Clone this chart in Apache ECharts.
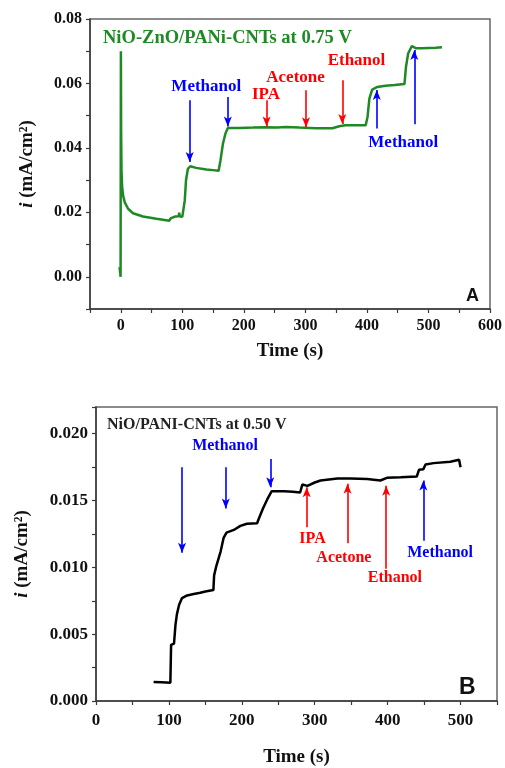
<!DOCTYPE html>
<html>
<head>
<meta charset="utf-8">
<script src="https://cdn.jsdelivr.net/npm/echarts@6/dist/echarts.min.js"></script>
<style>
html,body{margin:0;padding:0;background:#fff;}
#c{width:505px;height:768px;}
</style>
</head>
<body>
<div id="c"></div>
<script>
// ---------- Panel A data (NiO-ZnO/PANi-CNTs at 0.75 V) ----------
const timeA = [-2, -1.5, -0.8, -0.3, 0, 0.2, 0.6, 1.2, 2.2, 3.8, 6.5, 11.9, 20, 36, 58, 79, 81, 82, 88, 94, 95, 96, 100, 102.5, 104, 106, 109, 113, 122.5, 139, 150, 159, 162, 166, 170, 174, 193, 215, 236, 255, 268, 290, 317, 344, 355, 365, 380, 398, 401, 404, 408.5, 417, 430, 445, 461, 463.5, 467, 473, 480, 490, 500, 512, 522];
const currentA = [0.0030, 0.0028, 0.0010, 0.0000, 0.0000, 0.0700, 0.0450, 0.0330, 0.0280, 0.0252, 0.0231, 0.0211, 0.0197, 0.0187, 0.0180, 0.0174, 0.0181, 0.0187, 0.0187, 0.0188, 0.0199, 0.0187, 0.0186, 0.0185, 0.0237, 0.0299, 0.0335, 0.0343, 0.0338, 0.0333, 0.0331, 0.0329, 0.0361, 0.0413, 0.0444, 0.0462, 0.0462, 0.0463, 0.0464, 0.0463, 0.0465, 0.0463, 0.0461, 0.0461, 0.0467, 0.0470, 0.0470, 0.0470, 0.0496, 0.0553, 0.0581, 0.0589, 0.0593, 0.0595, 0.0598, 0.0652, 0.0693, 0.0716, 0.0709, 0.0709, 0.0710, 0.0711, 0.0712];
const xTicksA = [0, 100, 200, 300, 400, 500, 600];
const yTicksA = [0.00, 0.02, 0.04, 0.06, 0.08];
// arrows: [time, start current, end current]
const methanolArrowsA = [[112, 0.0548, 0.0356], [174, 0.0558, 0.0466], [416, 0.0460, 0.0580], [477, 0.0473, 0.0704]];
const solventArrowsA = [[237, 0.0548, 0.0466], [301, 0.0579, 0.0464], [360, 0.0610, 0.0474]];
// labels: [text, time, current]
const methanolLabelsA = [["Methanol", 139, 0.0591], ["Methanol", 459, 0.0415]];
const solventLabelsA = [["IPA", 236, 0.0566], ["Acetone", 284, 0.0618], ["Ethanol", 383, 0.0672]];

// ---------- Panel B data (NiO/PANI-CNTs at 0.50 V) ----------
const timeB = [79, 90, 102, 103, 107, 109, 111, 114, 118, 125, 134, 143, 150, 161, 162, 165, 171, 175, 179, 189, 198, 207, 221, 223, 229, 235, 241, 258, 270, 280, 283, 285, 290, 300, 308, 331, 349, 372, 390, 399, 418, 440, 443, 449, 452, 463, 486, 498, 500];
const currentB = [0.00143, 0.00140, 0.00136, 0.00420, 0.00430, 0.00570, 0.00650, 0.00720, 0.00770, 0.00790, 0.00800, 0.00810, 0.00820, 0.00830, 0.00940, 0.01010, 0.01120, 0.01220, 0.01260, 0.01280, 0.01310, 0.01326, 0.01330, 0.01360, 0.01440, 0.01510, 0.01570, 0.01570, 0.01565, 0.01560, 0.01620, 0.01610, 0.01610, 0.01635, 0.01650, 0.01665, 0.01665, 0.01662, 0.01650, 0.01670, 0.01674, 0.01680, 0.01730, 0.01735, 0.01770, 0.01780, 0.01790, 0.01805, 0.01750];
const xTicksB = [0, 100, 200, 300, 400, 500];
const yTicksB = [0.000, 0.005, 0.010, 0.015, 0.020];
const methanolArrowsB = [[118, 0.0175, 0.0111], [178, 0.0175, 0.0144], [239, 0.0181, 0.0160], [449, 0.0120, 0.0165]];
const solventArrowsB = [[289, 0.0130, 0.0160], [345, 0.0118, 0.01625], [398, 0.0099, 0.0161]];
const methanolLabelsB = [["Methanol", 177, 0.0191], ["Methanol", 472, 0.0111]];
const solventLabelsB = [["IPA", 297, 0.0121], ["Acetone", 340, 0.01074], ["Ethanol", 410, 0.00919]];

// ---------- styling ----------
const GREEN = '#1f8a24';
const BLUE = '#0000ff';
const RED = '#ff0000';
const SERIF = '"Liberation Serif","Times New Roman",serif';
const SANS = '"Liberation Sans",Arial,sans-serif';
const AXIS = '#3a3a3a';

function zip(a, b) { return a.map((v, i) => [v, b[i]]); }
function arrows(list, color) {
  return list.map(a => [
    { coord: [a[0], a[1]], lineStyle: { color: color, width: 1.6, type: 'solid', opacity: 1 } },
    { coord: [a[0], a[2]], lineStyle: { color: color, width: 1.6, type: 'solid', opacity: 1 } }
  ]);
}
function labels(list, color, size, xi, yi) {
  return {
    type: 'scatter', xAxisIndex: xi, yAxisIndex: yi, symbolSize: 0, silent: true, z: 5,
    itemStyle: { opacity: 1, color: color },
    data: list.map(l => ({ name: l[0], value: [l[1], l[2]] })),
    label: { show: true, position: 'inside', formatter: '{b}', color: color, opacity: 1,
      textBorderWidth: 0, fontFamily: SERIF, fontWeight: 'bold', fontSize: size }
  };
}
function xAxis(gi, min, max, ticks, labelSize, nameGap, labelMargin) {
  return {
    type: 'value', gridIndex: gi, min: min, max: max, interval: 50,
    name: 'Time (s)', nameLocation: 'middle', nameGap: nameGap,
    nameTextStyle: { fontFamily: SERIF, fontWeight: 'bold', fontSize: 19, color: '#111' },
    axisLine: { show: true, onZero: false, lineStyle: { color: AXIS, width: 1.5 } },
    axisTick: { show: true, length: 4, lineStyle: { color: AXIS, width: 1.2 } },
    splitLine: { show: false },
    axisLabel: {
      margin: labelMargin, fontFamily: SERIF, fontWeight: 'bold', fontSize: labelSize, color: '#111',
      formatter: v => ticks.some(t => Math.abs(t - v) < 1e-6) ? String(Math.round(v)) : ''
    }
  };
}
function yAxis(gi, min, max, interval, ticks, digits, labelSize, nameGap) {
  return {
    type: 'value', gridIndex: gi, min: min, max: max, interval: interval,
    name: '{it|i} (mA/cm²)', nameLocation: 'middle', nameGap: nameGap, nameRotate: 90,
    nameTextStyle: { fontFamily: SERIF, fontWeight: 'bold', fontSize: 19, color: '#111',
      rich: { it: { fontFamily: SERIF, fontWeight: 'bold', fontStyle: 'italic', fontSize: 19, color: '#111' } } },
    axisLine: { show: true, onZero: false, lineStyle: { color: AXIS, width: 1.5 } },
    axisTick: { show: true, length: 4, lineStyle: { color: AXIS, width: 1.2 } },
    splitLine: { show: false },
    axisLabel: {
      margin: 8, fontFamily: SERIF, fontWeight: 'bold', fontSize: labelSize, color: '#111',
      showMaxLabel: true,
      formatter: v => ticks.some(t => Math.abs(t - v) < 1e-7) ? v.toFixed(digits) : ''
    }
  };
}

const chart = echarts.init(document.getElementById('c'), null, { renderer: 'canvas' });
chart.setOption({
  backgroundColor: '#fff',
  animation: false,
  title: [
    { text: 'NiO-ZnO/PANi-CNTs at 0.75 V', left: 98, top: 24,
      textStyle: { fontFamily: SERIF, fontWeight: 'bold', fontSize: 18.5, color: GREEN } },
    { text: 'NiO/PANI-CNTs at 0.50 V', left: 102, top: 412,
      textStyle: { fontFamily: SERIF, fontWeight: 'bold', fontSize: 16, color: '#222' } },
    { text: 'A', left: 461, top: 282,
      textStyle: { fontFamily: SANS, fontWeight: 'bold', fontSize: 18, color: '#111' } },
    { text: 'B', left: 454, top: 671,
      textStyle: { fontFamily: SANS, fontWeight: 'bold', fontSize: 23, color: '#111' } }
  ],
  grid: [
    { left: 90, top: 19, width: 402, height: 290, show: true, borderColor: '#666', borderWidth: 1.5, backgroundColor: 'transparent' },
    { left: 96, top: 407, width: 401, height: 296, show: true, borderColor: '#666', borderWidth: 1.5, backgroundColor: 'transparent' }
  ],
  xAxis: [
    xAxis(0, -50, 600, xTicksA, 16, 33, 9),
    xAxis(1, 0, 550, xTicksB, 17, 47, 11)
  ],
  yAxis: [
    yAxis(0, -0.01, 0.08, 0.01, yTicksA, 2, 16, 53),
    yAxis(1, 0, 0.022, 0.0025, yTicksB, 3, 17, 64)
  ],
  series: [
    {
      type: 'line', xAxisIndex: 0, yAxisIndex: 0, showSymbol: false, silent: true,
      data: zip(timeA, currentA),
      lineStyle: { color: GREEN, width: 2.5 },
      markLine: { silent: true, symbol: ['none', 'arrow'], symbolSize: [6, 10], label: { show: false },
        data: arrows(methanolArrowsA, BLUE).concat(arrows(solventArrowsA, RED)) }
    },
    {
      type: 'line', xAxisIndex: 1, yAxisIndex: 1, showSymbol: false, silent: true,
      data: zip(timeB, currentB),
      lineStyle: { color: '#000', width: 2.5 },
      markLine: { silent: true, symbol: ['none', 'arrow'], symbolSize: [6, 10], label: { show: false },
        data: arrows(methanolArrowsB, BLUE).concat(arrows(solventArrowsB, RED)) }
    },
    labels(methanolLabelsA, BLUE, 17, 0, 0),
    labels(solventLabelsA, RED, 17, 0, 0),
    labels(methanolLabelsB, BLUE, 16, 1, 1),
    labels(solventLabelsB, RED, 16, 1, 1)
  ]
});
</script>
</body>
</html>
